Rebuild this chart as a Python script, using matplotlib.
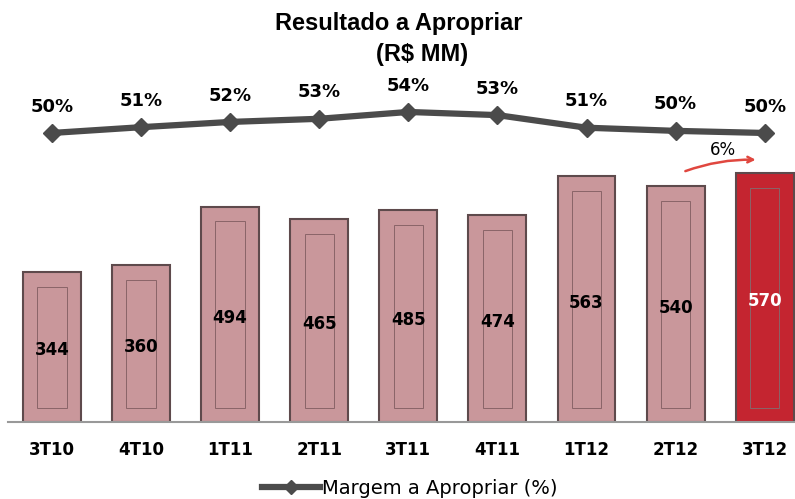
import matplotlib.pyplot as plt
from matplotlib.lines import Line2D

quarters = ['3T10', '4T10', '1T11', '2T11', '3T11', '4T11', '1T12', '2T12', '3T12']
resultado = [344, 360, 494, 465, 485, 474, 563, 540, 570]
margem = [50.0, 51.1, 52.1, 52.7, 54.0, 53.4, 51.0, 50.4, 50.0]
margem_labels = ['50%', '51%', '52%', '53%', '54%', '53%', '51%', '50%', '50%']
growth_label = '6%'

bar_color = '#c9979b'
last_color = '#c42530'
edge_color = '#5e4a4c'
line_color = '#4b4b4b'

fig = plt.figure(figsize=(7.95, 4.99), dpi=100)
ax = fig.add_axes([8 / 795, 0.1543, 787 / 795, 0.7255])
x = list(range(len(quarters)))
colors = [bar_color] * (len(quarters) - 1) + [last_color]

# outer bars + inner frame
ax.bar(x, resultado, width=0.65, color=colors, edgecolor=edge_color, linewidth=1.5, zorder=2)
ax.bar(x, [v - 66 for v in resultado], bottom=32, width=0.33, fill=False,
       edgecolor='#8a6468', linewidth=0.7, zorder=3)

for i, v in enumerate(resultado):
    ax.text(i, v / 2 - 8, str(v), ha='center', va='center', fontsize=12, fontweight='bold',
            color='white' if i == len(resultado) - 1 else 'black', zorder=4)

ax.set_xlim(-0.494, 8.34)
ax.set_ylim(0, 830)
ax.set_yticks([])
ax.set_xticks(x)
ax.set_xticklabels(quarters, fontsize=12, fontweight='bold')
ax.tick_params(axis='x', length=0, pad=14)
for s in ['top', 'right', 'left']:
    ax.spines[s].set_visible(False)
ax.spines['bottom'].set_color('#999999')
ax.spines['bottom'].set_linewidth(1.5)

# growth arrow
ax.annotate('', xy=(7.93, 601), xytext=(7.08, 573),
            arrowprops=dict(arrowstyle='->', color='#e0473f', lw=1.8,
                            connectionstyle='arc3,rad=-0.1'), zorder=5)
ax.text(7.53, 623, growth_label, ha='center', va='center', fontsize=12)

# margin line
ax2 = ax.twinx()
ax2.set_ylim(-5.05, 63.9)
ax2.axis('off')
ax2.plot(x, margem, color=line_color, linewidth=4.5, marker='D', markersize=9,
         markeredgecolor=line_color, zorder=5)
for i, (m, lab) in enumerate(zip(margem, margem_labels)):
    ax2.annotate(lab, (i, m), xytext=(0, 19), textcoords='offset points',
                 ha='center', va='center', fontsize=13, fontweight='bold')

fig.text(0.502, 0.953, 'Resultado a Apropriar', ha='center', va='center',
         fontsize=17, fontweight='bold', family='Liberation Sans')
fig.text(0.531, 0.89, '(R$ MM)', ha='center', va='center',
         fontsize=17, fontweight='bold', family='Liberation Sans')

handle = Line2D([], [], color=line_color, linewidth=4.5, marker='D', markersize=7)
fig.legend([handle], ['Margem a Apropriar (%)'], loc='center', bbox_to_anchor=(0.515, 0.022),
           frameon=False, fontsize=14, handlelength=3.0, handletextpad=0.1)

fig.savefig('out.png', dpi=100)
